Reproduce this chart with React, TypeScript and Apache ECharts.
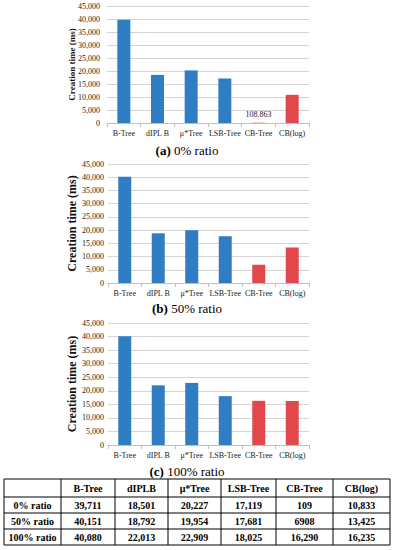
import React, { useEffect, useRef } from "react";
import * as echarts from "echarts";

const categories = ["B-Tree", "dIPL B", "μ*Tree", "LSB-Tree", "CB-Tree", "CB(log)"];
const ratio0 = [39711, 18501, 20227, 17119, 108.863, 10833];
const ratio50 = [40151, 18792, 19954, 17681, 6908, 13425];
const ratio100 = [40080, 22013, 22909, 18025, 16290, 16235];
const barColors = ["#2F7DC3", "#2F7DC3", "#2F7DC3", "#2F7DC3", "#E2474B", "#E2474B"];
const captionsTag = ["(a)", "(b)", "(c)"];
const captionsText = ["0% ratio", "50% ratio", "100% ratio"];
const tableHeader = ["", "B-Tree", "dIPLB", "μ*Tree", "LSB-Tree", "CB-Tree", "CB(log)"];
const tableRowLabels = ["0% ratio", "50% ratio", "100% ratio"];
const tableRows = [
  ["39,711", "18,501", "20,227", "17,119", "109", "10,833"],
  ["40,151", "18,792", "19,954", "17,681", "6908", "13,425"],
  ["40,080", "22,013", "22,909", "18,025", "16,290", "16,235"],
];

const SERIF = "'Liberation Serif', 'Times New Roman', serif";

const grids = [
  { left: 107, top: 6, width: 202, height: 117, nameSize: 9, nameGap: 31 },
  { left: 108, top: 164, width: 201, height: 119, nameSize: 12, nameGap: 30 },
  { left: 108, top: 323, width: 201, height: 122, nameSize: 12, nameGap: 30 },
];
const captionY = [150, 308, 471];

const colX = [4, 61, 115, 168, 221, 276, 333, 390];
const rowY = [479, 497, 513, 529, 545];

export default function App() {
  const ref = useRef<HTMLDivElement>(null);
  useEffect(() => {
    if (!ref.current) return;
    const chart = echarts.init(ref.current, undefined, { renderer: "svg" });
    const datasets = [ratio0, ratio50, ratio100];

    const graphic: any[] = [];
    captionY.forEach((y, i) => {
      graphic.push({
        type: "text",
        x: 187,
        y,
        style: {
          text: `{b|${captionsTag[i]}}{n| ${captionsText[i]}}`,
          rich: {
            b: { fontWeight: "bold", fontFamily: SERIF, fontSize: 13, fill: "#000" },
            n: { fontFamily: SERIF, fontSize: 13, fill: "#000" },
          },
          fontFamily: SERIF,
          fontSize: 13,
          fill: "#000",
          align: "center",
          verticalAlign: "middle",
        },
      });
    });
    graphic.push({
      type: "rect",
      shape: { x: colX[0], y: rowY[0], width: colX[colX.length - 1] - colX[0], height: rowY[rowY.length - 1] - rowY[0] },
      style: { fill: "#fff", stroke: "#000", lineWidth: 1 },
    });
    for (let i = 1; i < colX.length - 1; i++) {
      graphic.push({
        type: "line",
        shape: { x1: colX[i], y1: rowY[0], x2: colX[i], y2: rowY[rowY.length - 1] },
        style: { stroke: "#000", lineWidth: 1 },
      });
    }
    for (let j = 1; j < rowY.length - 1; j++) {
      graphic.push({
        type: "line",
        shape: { x1: colX[0], y1: rowY[j], x2: colX[colX.length - 1], y2: rowY[j] },
        style: { stroke: "#000", lineWidth: 1 },
      });
    }
    const cellText = (text: string, c: number, r: number) => ({
      type: "text",
      x: (colX[c] + colX[c + 1]) / 2,
      y: (rowY[r] + rowY[r + 1]) / 2,
      style: {
        text,
        fontFamily: SERIF,
        fontWeight: "bold",
        fontSize: 10,
        fill: "#000",
        align: "center",
        verticalAlign: "middle",
      },
    });
    tableHeader.forEach((h, c) => {
      if (h) graphic.push(cellText(h, c, 0));
    });
    tableRowLabels.forEach((l, r) => {
      graphic.push(cellText(l, 0, r + 1));
      tableRows[r].forEach((v, c) => graphic.push(cellText(v, c + 1, r + 1)));
    });

    chart.setOption({
      animation: false,
      backgroundColor: "#fff",
      grid: grids.map((g) => ({ left: g.left, top: g.top, width: g.width, height: g.height, containLabel: false })),
      xAxis: grids.map((g, i) => ({
        type: "category",
        gridIndex: i,
        data: categories,
        axisLine: { show: true, lineStyle: { color: "#BFBFBF", width: 1 } },
        axisTick: { show: true, alignWithLabel: false, length: 4, lineStyle: { color: "#BFBFBF" } },
        axisLabel: { fontFamily: SERIF, fontSize: 8, color: "#222", margin: 6, interval: 0 },
      })),
      yAxis: grids.map((g, i) => ({
        type: "value",
        gridIndex: i,
        min: 0,
        max: 45000,
        interval: 5000,
        name: "Creation time (ms)",
        nameLocation: "middle",
        nameGap: g.nameGap,
        nameMoveOverlap: false,
        nameTextStyle: { fontFamily: SERIF, fontWeight: "bold", fontSize: g.nameSize, color: "#111" },
        axisLine: { show: false },
        axisTick: { show: false },
        axisLabel: {
          fontFamily: SERIF,
          fontSize: 8,
          color: "#222",
          margin: i === 0 ? 7 : 4,
          formatter: (v: number) => v.toLocaleString("en-US"),
        },
        splitLine: { show: true, lineStyle: { color: "#D4D4D4", width: 1 } },
      })),
      series: datasets.map((d, i) => ({
        type: "bar",
        xAxisIndex: i,
        yAxisIndex: i,
        barWidth: 13,
        data: d.map((v, k) => ({
          value: v,
          itemStyle: { color: barColors[k] },
          label:
            i === 0 && k === 4
              ? { show: true, position: "top", distance: 4, formatter: "108.863", fontFamily: SERIF, fontSize: 8, color: "#222" }
              : { show: false },
        })),
      })),
      graphic,
    });
    return () => chart.dispose();
  }, []);
  return <div ref={ref} style={{ position: "absolute", left: 0, top: 0, width: 394, height: 550 }} />;
}
